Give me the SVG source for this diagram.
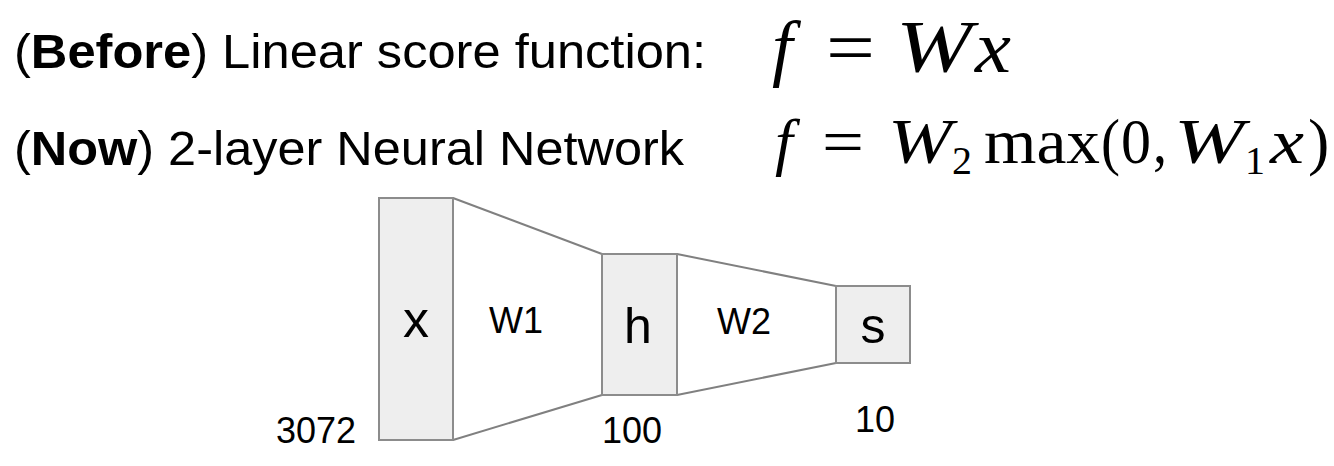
<svg xmlns="http://www.w3.org/2000/svg" width="1334" height="466" viewBox="0 0 1334 466">
<style>
.t{font-family:"Liberation Sans",Arial,sans-serif;fill:#000}
.m{font-family:"Liberation Serif","Times New Roman",serif;fill:#000}
.i{font-style:italic}
.box{fill:#eeeeee;stroke:#8c8c8c;stroke-width:2}
.edge{stroke:#808080;stroke-width:2;fill:none}
</style>
<rect width="1334" height="466" fill="#ffffff"/>
<g id="title">
<text class="t" x="14" y="68" font-size="48" textLength="692" lengthAdjust="spacingAndGlyphs">(<tspan font-weight="bold">Before</tspan>) Linear score function:</text>
<text class="t" x="14" y="165" font-size="48" textLength="670" lengthAdjust="spacingAndGlyphs">(<tspan font-weight="bold">Now</tspan>) 2-layer Neural Network</text>
</g>
<g id="formula-before">
<text class="m i" x="772" y="72" font-size="74">f</text>
<text class="m" x="826" y="72" font-size="74" textLength="49" lengthAdjust="spacingAndGlyphs">=</text>
<text class="m i" x="896" y="72" font-size="74" textLength="76" lengthAdjust="spacingAndGlyphs">W</text>
<text class="m i" x="975" y="72" font-size="74" textLength="36" lengthAdjust="spacingAndGlyphs">x</text>
</g>
<g id="formula-now">
<text class="m i" x="775" y="163" font-size="64">f</text>
<text class="m" x="822" y="163" font-size="64" textLength="42" lengthAdjust="spacingAndGlyphs">=</text>
<text class="m i" x="888" y="163" font-size="64" textLength="64" lengthAdjust="spacingAndGlyphs">W</text>
<text class="m" x="952" y="174" font-size="40">2</text>
<text class="m" x="984" y="163" font-size="64" textLength="116" lengthAdjust="spacingAndGlyphs">max</text>
<text class="m" x="1101" y="163" font-size="64" textLength="19" lengthAdjust="spacingAndGlyphs">(</text>
<text class="m" x="1121" y="163" font-size="64" textLength="30" lengthAdjust="spacingAndGlyphs">0</text>
<text class="m" x="1153" y="163" font-size="64" textLength="14" lengthAdjust="spacingAndGlyphs">,</text>
<text class="m i" x="1174" y="163" font-size="64" textLength="70" lengthAdjust="spacingAndGlyphs">W</text>
<text class="m" x="1245" y="174" font-size="40">1</text>
<text class="m i" x="1270" y="163" font-size="64" textLength="34" lengthAdjust="spacingAndGlyphs">x</text>
<text class="m" x="1308" y="163" font-size="64">)</text>
</g>
<g id="connectors">
<line class="edge" x1="453" y1="198" x2="602" y2="254"/>
<line class="edge" x1="453" y1="440" x2="602" y2="395"/>
<line class="edge" x1="677" y1="254" x2="836" y2="286"/>
<line class="edge" x1="677" y1="395" x2="836" y2="363"/>
</g>
<g id="node-x">
<rect class="box" x="379" y="198" width="74" height="242"/>
<text class="t" x="416" y="337" font-size="52" text-anchor="middle">x</text>
</g>
<g id="node-h">
<rect class="box" x="602" y="254" width="75" height="141"/>
<text class="t" x="638" y="343" font-size="50" text-anchor="middle">h</text>
</g>
<g id="node-s">
<rect class="box" x="836" y="286" width="74" height="77"/>
<text class="t" x="873" y="343" font-size="50" text-anchor="middle">s</text>
</g>
<g id="labels">
<text class="t" x="516" y="333" font-size="36" text-anchor="middle">W1</text>
<text class="t" x="744" y="334" font-size="36" text-anchor="middle">W2</text>
<text class="t" x="316" y="443" font-size="36" text-anchor="middle">3072</text>
<text class="t" x="632" y="443" font-size="36" text-anchor="middle">100</text>
<text class="t" x="875" y="432" font-size="36" text-anchor="middle">10</text>
</g>
</svg>
